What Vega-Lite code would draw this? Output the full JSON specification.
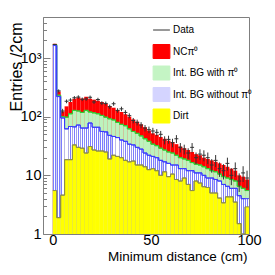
{
"$schema":"https://vega.github.io/schema/vega-lite/v6.json",
"width":206,"height":217,
"autosize":{"type":"none"},
"padding":{"left":43,"top":17,"right":26,"bottom":41},
"config":{"view":{"stroke":"#7f7f7f","strokeWidth":1},"font":"Liberation Sans",
"axis":{"labelFont":"Liberation Sans","titleFont":"Liberation Sans","labelColor":"#000","titleColor":"#000","tickColor":"#7f7f7f","domain":false,"grid":false,"labelFlush":false,"labelOverlap":false,"titleFontWeight":"normal"}},
"data":{"values":[
{"x0":0,"x1":2,"xc":1,"dirt":5.5,"bgNoPi0":1630,"bgPi0":1690,"total":1750,"data":1700,"lo":1659,"hi":1741},
{"x0":2,"x1":4,"xc":3,"dirt":1.9,"bgNoPi0":220,"bgPi0":232,"total":268,"data":275,"lo":258,"hi":292},
{"x0":4,"x1":6,"xc":5,"dirt":4.6,"bgNoPi0":95,"bgPi0":100,"total":122,"data":125,"lo":114,"hi":136},
{"x0":6,"x1":8,"xc":7,"dirt":18.5,"bgNoPi0":62,"bgPi0":98,"total":150,"data":183,"lo":169.5,"hi":196.5},
{"x0":8,"x1":10,"xc":9,"dirt":18.5,"bgNoPi0":68,"bgPi0":112,"total":178,"data":192,"lo":178,"hi":206},
{"x0":10,"x1":12,"xc":11,"dirt":33,"bgNoPi0":67,"bgPi0":128,"total":203,"data":210,"lo":195.5,"hi":224.5},
{"x0":12,"x1":14,"xc":13,"dirt":30,"bgNoPi0":72,"bgPi0":125,"total":212,"data":216,"lo":201,"hi":231},
{"x0":14,"x1":16,"xc":15,"dirt":29,"bgNoPi0":64,"bgPi0":118,"total":205,"data":198,"lo":184,"hi":212},
{"x0":16,"x1":18,"xc":17,"dirt":24,"bgNoPi0":64,"bgPi0":128,"total":218,"data":200,"lo":186,"hi":214},
{"x0":18,"x1":20,"xc":19,"dirt":31,"bgNoPi0":78,"bgPi0":120,"total":202,"data":214,"lo":199,"hi":229},
{"x0":20,"x1":22,"xc":21,"dirt":27,"bgNoPi0":66,"bgPi0":116,"total":195,"data":178,"lo":165,"hi":191},
{"x0":22,"x1":24,"xc":23,"dirt":26,"bgNoPi0":66,"bgPi0":112,"total":186,"data":196,"lo":182,"hi":210},
{"x0":24,"x1":26,"xc":25,"dirt":26,"bgNoPi0":56,"bgPi0":105,"total":178,"data":170,"lo":157,"hi":183},
{"x0":26,"x1":28,"xc":27,"dirt":25,"bgNoPi0":55,"bgPi0":98,"total":165,"data":168,"lo":155,"hi":181},
{"x0":28,"x1":30,"xc":29,"dirt":19,"bgNoPi0":48,"bgPi0":92,"total":152,"data":148,"lo":136,"hi":160},
{"x0":30,"x1":32,"xc":31,"dirt":22,"bgNoPi0":46,"bgPi0":88,"total":142,"data":166,"lo":153,"hi":179},
{"x0":32,"x1":34,"xc":33,"dirt":21,"bgNoPi0":44,"bgPi0":80,"total":130,"data":128,"lo":117,"hi":139},
{"x0":34,"x1":36,"xc":35,"dirt":20,"bgNoPi0":40,"bgPi0":74,"total":120,"data":136,"lo":124,"hi":148},
{"x0":36,"x1":38,"xc":37,"dirt":18,"bgNoPi0":38,"bgPi0":70,"total":110,"data":118,"lo":107,"hi":129},
{"x0":38,"x1":40,"xc":39,"dirt":17,"bgNoPi0":34,"bgPi0":62,"total":100,"data":104,"lo":94,"hi":114},
{"x0":40,"x1":42,"xc":41,"dirt":17.5,"bgNoPi0":33,"bgPi0":56,"total":90,"data":86,"lo":77,"hi":95},
{"x0":42,"x1":44,"xc":43,"dirt":15,"bgNoPi0":30,"bgPi0":52,"total":82,"data":80,"lo":71,"hi":89},
{"x0":44,"x1":46,"xc":45,"dirt":15,"bgNoPi0":28,"bgPi0":47,"total":74,"data":72,"lo":63.5,"hi":80.5},
{"x0":46,"x1":48,"xc":47,"dirt":14,"bgNoPi0":24,"bgPi0":42,"total":66,"data":64,"lo":56,"hi":72},
{"x0":48,"x1":50,"xc":49,"dirt":12.5,"bgNoPi0":22,"bgPi0":38,"total":58,"data":60,"lo":52.3,"hi":67.7},
{"x0":50,"x1":52,"xc":51,"dirt":13,"bgNoPi0":21,"bgPi0":34,"total":52,"data":57,"lo":49.5,"hi":64.5},
{"x0":52,"x1":54,"xc":53,"dirt":12,"bgNoPi0":20,"bgPi0":32,"total":49,"data":54,"lo":46.7,"hi":61.3},
{"x0":54,"x1":56,"xc":55,"dirt":10,"bgNoPi0":18,"bgPi0":29,"total":45,"data":50,"lo":42.9,"hi":57.1},
{"x0":56,"x1":58,"xc":57,"dirt":11.5,"bgNoPi0":17,"bgPi0":27,"total":42,"data":40,"lo":33.7,"hi":46.3},
{"x0":58,"x1":60,"xc":59,"dirt":9.5,"bgNoPi0":16,"bgPi0":25,"total":39,"data":41,"lo":34.6,"hi":47.4},
{"x0":60,"x1":62,"xc":61,"dirt":10.5,"bgNoPi0":15,"bgPi0":24,"total":37,"data":36,"lo":30,"hi":42},
{"x0":62,"x1":64,"xc":63,"dirt":8.5,"bgNoPi0":15,"bgPi0":22,"total":34,"data":42,"lo":35.5,"hi":48.5},
{"x0":64,"x1":66,"xc":65,"dirt":8,"bgNoPi0":13,"bgPi0":20,"total":31,"data":30,"lo":24.5,"hi":35.5},
{"x0":66,"x1":68,"xc":67,"dirt":9,"bgNoPi0":13,"bgPi0":19,"total":29,"data":28,"lo":22.7,"hi":33.3},
{"x0":68,"x1":70,"xc":69,"dirt":7,"bgNoPi0":12,"bgPi0":18,"total":27,"data":24,"lo":19.1,"hi":28.9},
{"x0":70,"x1":72,"xc":71,"dirt":5.5,"bgNoPi0":12,"bgPi0":16.5,"total":25,"data":30,"lo":24.5,"hi":35.5},
{"x0":72,"x1":74,"xc":73,"dirt":8,"bgNoPi0":11,"bgPi0":15.5,"total":23,"data":20,"lo":15.5,"hi":24.5},
{"x0":74,"x1":76,"xc":75,"dirt":7.4,"bgNoPi0":11,"bgPi0":15,"total":22,"data":23,"lo":18.2,"hi":27.8},
{"x0":76,"x1":78,"xc":77,"dirt":6.4,"bgNoPi0":10,"bgPi0":14,"total":20,"data":22,"lo":17.3,"hi":26.7},
{"x0":78,"x1":80,"xc":79,"dirt":6.2,"bgNoPi0":9,"bgPi0":13,"total":19,"data":20,"lo":15.5,"hi":24.5},
{"x0":80,"x1":82,"xc":81,"dirt":5,"bgNoPi0":9,"bgPi0":12,"total":18,"data":15,"lo":11.1,"hi":18.9},
{"x0":82,"x1":84,"xc":83,"dirt":5,"bgNoPi0":8.5,"bgPi0":11.5,"total":17,"data":18,"lo":13.8,"hi":22.2},
{"x0":84,"x1":86,"xc":85,"dirt":4.1,"bgNoPi0":8,"bgPi0":10.5,"total":16,"data":13,"lo":9.4,"hi":16.6},
{"x0":86,"x1":88,"xc":87,"dirt":3.4,"bgNoPi0":7,"bgPi0":9.5,"total":15,"data":12,"lo":8.5,"hi":15.5},
{"x0":88,"x1":90,"xc":89,"dirt":4.3,"bgNoPi0":6.5,"bgPi0":9,"total":14,"data":16,"lo":12,"hi":20},
{"x0":90,"x1":92,"xc":91,"dirt":4.3,"bgNoPi0":6,"bgPi0":8.5,"total":13,"data":10,"lo":6.8,"hi":13.2},
{"x0":92,"x1":94,"xc":93,"dirt":3.5,"bgNoPi0":6,"bgPi0":8,"total":12,"data":13,"lo":9.4,"hi":16.6},
{"x0":94,"x1":96,"xc":95,"dirt":1.5,"bgNoPi0":4.5,"bgPi0":6.5,"total":10,"data":8,"lo":5.2,"hi":10.8},
{"x0":96,"x1":98,"xc":97,"dirt":1,"bgNoPi0":4,"bgPi0":6,"total":9.5,"data":11,"lo":7.7,"hi":14.3},
{"x0":98,"x1":100,"xc":99,"dirt":2.9,"bgNoPi0":4,"bgPi0":5.5,"total":8.5,"data":9,"lo":6,"hi":12}
]},
"encoding":{"x":{"field":"x0","type":"quantitative","title":"Minimum distance (cm)",
 "scale":{"domain":[-5,100],"nice":false,"zero":false},
 "axis":{"values":[0,10,20,30,40,50,60,70,80,90,100],"labelExpr":"datum.value % 50 == 0 ? datum.label : ''",
  "tickSize":{"condition":{"test":"datum.value % 50 == 0","value":-6},"value":-3},
  "labelFontSize":14.5,"labelPadding":5,
  "titleFontSize":13.5,"titleAnchor":"end","titleAlign":"right","titleX":204,"titleY":26,"titleBaseline":"alphabetic"}}},
"layer":[
{"mark":{"type":"bar","fill":"#ff0000"},
 "encoding":{"x2":{"field":"x1"},
  "y":{"field":"total","type":"quantitative","title":"Entries /2cm",
   "scale":{"type":"log","domain":[1,5000],"nice":false},
   "axis":{"values":[1,2,3,4,5,6,7,8,9,10,20,30,40,50,60,70,80,90,100,200,300,400,500,600,700,800,900,1000,2000,3000,4000,5000],
    "labelExpr":"datum.value == 1 ? '1' : datum.value == 10 ? '10' : datum.value == 100 ? '10²' : datum.value == 1000 ? '10³' : ''",
    "tickSize":{"condition":{"test":"datum.value == 1 || datum.value == 10 || datum.value == 100 || datum.value == 1000","value":-7},"value":-3.5},
    "labelFontSize":14.5,"labelPadding":9,
    "titleFontSize":16,"titleAnchor":"end","titleAngle":-90,"titleX":-22,"titleY":5,"titleBaseline":"alphabetic","titleAlign":"right"}},
  "y2":{"datum":1}}},
{"mark":{"type":"bar","fill":"#bdf2bd"},
 "encoding":{"x2":{"field":"x1"},"y":{"field":"bgPi0","type":"quantitative","title":"Entries /2cm"},"y2":{"datum":1}}},
{"mark":{"type":"bar","fill":{"gradient":"linear","x1":0,"y1":0,"x2":1,"y2":0,"stops":[
  {"offset":0,"color":"#7c7cff"},{"offset":0.22,"color":"#7c7cff"},{"offset":0.22,"color":"#ffffff"},{"offset":0.5,"color":"#ffffff"},
  {"offset":0.5,"color":"#7c7cff"},{"offset":0.72,"color":"#7c7cff"},{"offset":0.72,"color":"#ffffff"},{"offset":1,"color":"#ffffff"}]}},
 "encoding":{"x2":{"field":"x1"},"y":{"field":"bgNoPi0","type":"quantitative","title":"Entries /2cm"},"y2":{"datum":1}}},
{"mark":{"type":"bar","fill":"#ffff00"},
 "encoding":{"x2":{"field":"x1"},"y":{"field":"dirt","type":"quantitative","title":"Entries /2cm"},"y2":{"datum":1}}},
{"mark":{"type":"line","interpolate":"step-after","stroke":"#33cc33","strokeWidth":1},
 "encoding":{"y":{"field":"bgPi0","type":"quantitative","title":"Entries /2cm"}}},
{"mark":{"type":"line","interpolate":"step-before","stroke":"#33cc33","strokeWidth":1},
 "encoding":{"x":{"field":"x1","type":"quantitative","title":"Minimum distance (cm)"},"y":{"field":"bgPi0","type":"quantitative","title":"Entries /2cm"}}},
{"mark":{"type":"line","interpolate":"step-after","stroke":"#3a3aff","strokeWidth":1},
 "encoding":{"y":{"field":"bgNoPi0","type":"quantitative","title":"Entries /2cm"}}},
{"mark":{"type":"line","interpolate":"step-before","stroke":"#3a3aff","strokeWidth":1},
 "encoding":{"x":{"field":"x1","type":"quantitative","title":"Minimum distance (cm)"},"y":{"field":"bgNoPi0","type":"quantitative","title":"Entries /2cm"}}},
{"mark":{"type":"line","interpolate":"step-after","stroke":"#8c8c50","strokeWidth":1},
 "encoding":{"y":{"field":"dirt","type":"quantitative","title":"Entries /2cm"}}},
{"mark":{"type":"line","interpolate":"step-before","stroke":"#8c8c50","strokeWidth":1},
 "encoding":{"x":{"field":"x1","type":"quantitative","title":"Minimum distance (cm)"},"y":{"field":"dirt","type":"quantitative","title":"Entries /2cm"}}},
{"data":{"values":[{}]},
 "mark":{"type":"rule","stroke":"#666666","strokeWidth":1,"strokeDash":[2,2]},
 "encoding":{"x":{"datum":6,"type":"quantitative"},"y":{"datum":1,"type":"quantitative"},"y2":{"datum":3640}}},
{"data":{"values":[{}]},
 "mark":{"type":"rule","stroke":"#000000","strokeWidth":1},
 "encoding":{"x":{"datum":6,"type":"quantitative"},"x2":{"datum":14.5},"y":{"datum":2990,"type":"quantitative"}}},
{"data":{"values":[{}]},
 "mark":{"type":"point","shape":"triangle-right","filled":true,"fill":"#000000","size":30,"opacity":1},
 "encoding":{"x":{"datum":15,"type":"quantitative"},"y":{"datum":2990,"type":"quantitative"}}},
{"mark":{"type":"rule","strokeWidth":1},
 "encoding":{"x":{"field":"xc","type":"quantitative","title":"Minimum distance (cm)"},
  "y":{"field":"lo","type":"quantitative","title":"Entries /2cm"},"y2":{"field":"hi"},
  "color":{"datum":"Data","scale":{"domain":["Data","NCπ⁰","Int. BG with π⁰","Int. BG without π⁰","Dirt"],"range":["#333333","#ff0000","#c4f4c4","#d4d4ff","#ffff00"]},
   "legend":{"orient":"none","legendX":111,"legendY":5.5,"title":null,"padding":0,"symbolSize":196,"rowPadding":2.5,"gridAlign":"all",
    "labelFont":"Liberation Sans","labelFontSize":10,"labelOffset":4,"labelColor":"#000000","symbolStrokeWidth":1,
    "encode":{"symbols":{"update":{
     "shape":{"signal":"datum.value == 'Data' ? 'M-1.2,0L1.2,0' : 'M-1.2,-1L1.2,-1L1.2,1L-1.2,1Z'"},
     "fill":{"signal":"datum.value == 'Data' ? 'transparent' : scale('color', datum.value)"},
     "stroke":{"signal":"datum.value == 'Data' ? '#555555' : datum.value == 'Dirt' ? '#ffff00' : test(/^NC/, datum.value) ? '#ff0000' : test(/without/, datum.value) ? '#6a6aff' : '#44dd44'"},
     "strokeWidth":{"value":1},"opacity":{"value":1}}}}}}}},
{"mark":{"type":"rule","strokeWidth":1,"stroke":"#333333"},
 "encoding":{"x2":{"field":"x1"},"y":{"field":"data","type":"quantitative","title":"Entries /2cm"}}}
]
}
